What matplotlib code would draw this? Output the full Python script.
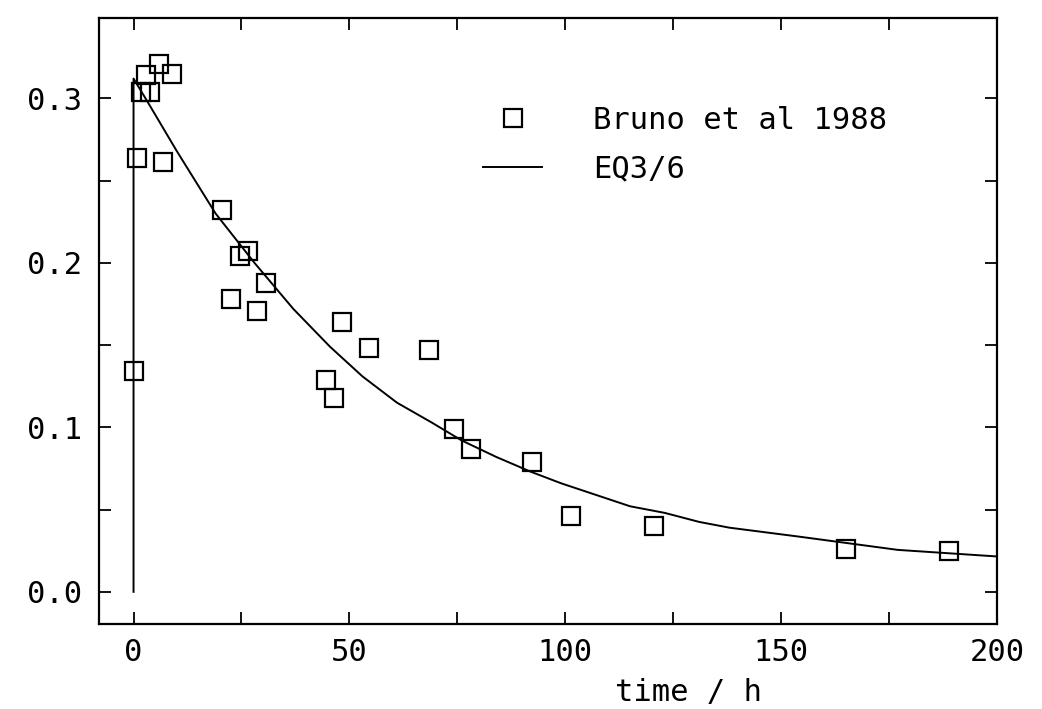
import matplotlib
matplotlib.use("Agg")
import matplotlib.pyplot as plt
from matplotlib.ticker import MultipleLocator, FixedLocator

# Data: Bruno et al 1988 measurements
obs_time = [0.0, 0.85, 1.8, 2.9, 3.9, 6.0, 6.8, 8.8, 20.6, 22.6, 24.7, 26.6,
            28.7, 30.7, 44.5, 46.4, 48.2, 54.5, 68.4, 74.3, 78.2, 92.3,
            101.3, 120.6, 165.1, 188.8]
obs_value = [0.134, 0.264, 0.304, 0.314, 0.304, 0.321, 0.261, 0.315, 0.232,
             0.178, 0.204, 0.207, 0.171, 0.188, 0.129, 0.118, 0.164, 0.148,
             0.147, 0.099, 0.087, 0.079, 0.046, 0.040, 0.026, 0.025]

# Model curve: EQ3/6
model_time = [0, 0, 3, 10, 19, 28, 37, 45.5, 53, 61, 69, 76, 84, 92, 99,
              107, 115, 123, 131, 138, 154, 177, 200]
model_value = [0.0, 0.312, 0.299, 0.268, 0.230, 0.200, 0.172, 0.149, 0.131,
               0.115, 0.103, 0.092, 0.082, 0.073, 0.066, 0.059, 0.052,
               0.048, 0.0425, 0.039, 0.0336, 0.0255, 0.0215]

x_major = [0, 50, 100, 150, 200]
x_labels = ["0", "50", "100", "150", "200"]
y_major = [0.0, 0.1, 0.2, 0.3]
y_labels = ["0.0", "0.1", "0.2", "0.3"]

font = "DejaVu Sans Mono"
fs = 22

fig = plt.figure(figsize=(10.42, 7.09), dpi=100)
ax = fig.add_axes([0.095, 0.120, 0.862, 0.855])

ax.plot(obs_time, obs_value, linestyle="none", marker="s", markersize=12.8,
        markerfacecolor="none", markeredgecolor="black", markeredgewidth=1.6,
        label="Bruno et al 1988")
ax.plot(model_time, model_value, color="black", linewidth=1.4, label="EQ3/6")

ax.set_xlim(-8, 200)
ax.set_ylim(-0.0195, 0.349)

ax.xaxis.set_major_locator(FixedLocator(x_major))
ax.xaxis.set_minor_locator(MultipleLocator(25))
ax.yaxis.set_major_locator(FixedLocator(y_major))
ax.yaxis.set_minor_locator(MultipleLocator(0.05))
ax.set_xticklabels(x_labels, fontfamily=font, fontsize=fs)
ax.set_yticklabels(y_labels, fontfamily=font, fontsize=fs)

ax.tick_params(which="both", direction="in", top=True, right=True,
               length=8.5, width=1.3)
ax.tick_params(axis="x", pad=10)
ax.tick_params(axis="y", pad=12)
for s in ax.spines.values():
    s.set_linewidth(1.6)

ax.set_xlabel("time / h", fontfamily=font, fontsize=fs)
ax.xaxis.set_label_coords(0.656, -0.09)

leg = ax.legend(loc="upper left", bbox_to_anchor=(0.428, 0.855), frameon=False,
                prop={"family": font, "size": fs}, handlelength=1.93,
                handletextpad=1.67, labelspacing=0.65, borderpad=0,
                borderaxespad=0)

fig.savefig("out.png", dpi=100)
